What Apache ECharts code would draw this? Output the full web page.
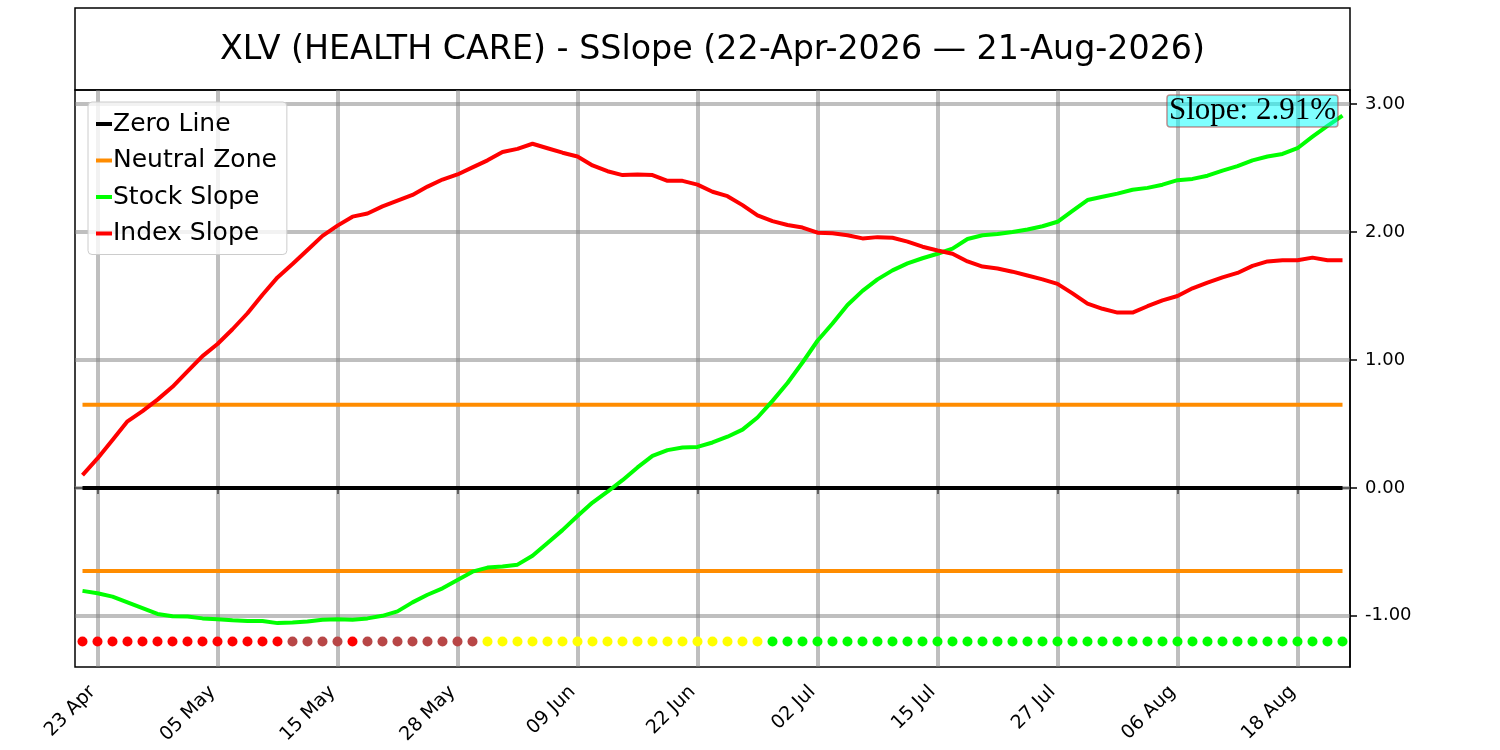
<!DOCTYPE html>
<html>
<head>
<meta charset="utf-8">
<script src="https://cdn.jsdelivr.net/npm/echarts@6/dist/echarts.min.js"></script>
<style>
  html, body { margin: 0; padding: 0; background: #fff; }
  #root { width: 1500px; height: 750px; }
</style>
</head>
<body>
<div id="root"></div>
<script>
// trading days 22 Apr 2026 - 21 Aug 2026
var dates = [
  '22 Apr','23 Apr','24 Apr','27 Apr','28 Apr','29 Apr','30 Apr',
  '01 May','04 May','05 May','06 May','07 May','08 May','11 May','12 May','13 May','14 May','15 May',
  '18 May','19 May','20 May','21 May','22 May','26 May','27 May','28 May','29 May',
  '01 Jun','02 Jun','03 Jun','04 Jun','05 Jun','08 Jun','09 Jun','10 Jun','11 Jun','12 Jun',
  '15 Jun','16 Jun','17 Jun','18 Jun','22 Jun','23 Jun','24 Jun','25 Jun','26 Jun','29 Jun','30 Jun',
  '01 Jul','02 Jul','06 Jul','07 Jul','08 Jul','09 Jul','10 Jul','13 Jul','14 Jul','15 Jul',
  '16 Jul','17 Jul','20 Jul','21 Jul','22 Jul','23 Jul','24 Jul','27 Jul','28 Jul','29 Jul','30 Jul','31 Jul',
  '03 Aug','04 Aug','05 Aug','06 Aug','07 Aug','10 Aug','11 Aug','12 Aug','13 Aug','14 Aug',
  '17 Aug','18 Aug','19 Aug','20 Aug','21 Aug'
];

var tickLabels = ['23 Apr','05 May','15 May','28 May','09 Jun','22 Jun','02 Jul','15 Jul','27 Jul','06 Aug','18 Aug'];
var yTicks = [-1, 0, 1, 2, 3];

var stockSlope = [
  -0.805, -0.823, -0.85, -0.895, -0.94, -0.985, -1.003, -1.005, -1.02, -1.027,
  -1.035, -1.04, -1.04, -1.057, -1.052, -1.045, -1.03, -1.027, -1.03, -1.02,
  -1.0, -0.965, -0.895, -0.835, -0.785, -0.72, -0.655, -0.623, -0.615, -0.60,
  -0.53, -0.43, -0.33, -0.22, -0.115, -0.03, 0.06, 0.16, 0.25, 0.295,
  0.315, 0.32, 0.355, 0.40, 0.455, 0.55, 0.68, 0.82, 0.98, 1.15,
  1.285, 1.43, 1.54, 1.63, 1.70, 1.755, 1.795, 1.83, 1.87, 1.945,
  1.975, 1.985, 2.00, 2.02, 2.045, 2.08, 2.165, 2.25, 2.275, 2.30,
  2.33, 2.345, 2.37, 2.405, 2.415, 2.44, 2.48, 2.515, 2.56, 2.59,
  2.61, 2.655, 2.745, 2.83, 2.91
];

var indexSlope = [
  0.10, 0.23, 0.375, 0.52, 0.60, 0.69, 0.79, 0.91, 1.03, 1.125,
  1.24, 1.365, 1.51, 1.645, 1.75, 1.86, 1.97, 2.05, 2.12, 2.145,
  2.20, 2.245, 2.29, 2.355, 2.41, 2.45, 2.505, 2.56, 2.625, 2.65,
  2.69, 2.655, 2.62, 2.59, 2.52, 2.475, 2.445, 2.45, 2.445, 2.40,
  2.40, 2.37, 2.315, 2.28, 2.21, 2.13, 2.085, 2.055, 2.035, 1.995,
  1.99, 1.975, 1.95, 1.96, 1.955, 1.925, 1.885, 1.855, 1.83, 1.77,
  1.73, 1.715, 1.69, 1.66, 1.63, 1.595, 1.52, 1.44, 1.40, 1.37,
  1.37, 1.42, 1.465, 1.50, 1.56, 1.605, 1.645, 1.68, 1.735, 1.77,
  1.78, 1.78, 1.80, 1.78, 1.78
];

// signal dots: R = red, B = brown, Y = yellow, G = green
var signals = ('RRRRRRRRRRRRRR' + 'BBBB' + 'R' + 'BBBBBBBB' +
  'YYYYYYYYYYYYYYYYYYY' +
  'GGGGGGGGGGGGGGGGGGGGGGGGGGGGGGGGGGGGGGG').split('');

var zeroLevel = 0;
var neutralLevel = 0.65;
var dotLevel = -1.2;
var lastSlope = 2.91;

var signalColors = { R: '#ff0000', B: '#b84646', Y: '#ffff00', G: '#00ff00' };
var FONT = 'DejaVu Sans';
var GRIDLINE = { color: 'rgba(128,128,128,0.5)', width: 4, type: 'solid' };

var first = dates[0], last = dates[dates.length - 1];
var isTick = function (i, v) { return tickLabels.indexOf(v) >= 0; };

var myChart = echarts.init(document.getElementById('root'));

myChart.setOption({
  animation: false,
  backgroundColor: '#fff',
  title: [{
    text: 'Slope: ' + lastSlope.toFixed(2) + '%',
    right: 162,
    top: 95,
    padding: [0, 2],
    backgroundColor: 'rgba(0,255,255,0.5)',
    borderColor: 'rgba(165,42,42,0.5)',
    borderWidth: 1.5,
    borderRadius: 3,
    textStyle: { fontFamily: 'Liberation Serif', fontSize: 31, fontWeight: 'normal', color: '#000', lineHeight: 32 }
  }],
  graphic: [
    {
      type: 'rect',
      shape: { x: 75, y: 8, width: 1275, height: 82 },
      style: { fill: 'none', stroke: '#000', lineWidth: 1.5 }
    },
    {
      type: 'text',
      x: 712.5, y: 50,
      style: {
        text: 'XLV (HEALTH CARE) - SSlope (22-Apr-2026 \u2014 21-Aug-2026)',
        fontFamily: FONT, fontSize: 33.3, fill: '#000',
        textAlign: 'center', textVerticalAlign: 'middle'
      }
    }
  ],
  legend: {
    data: ['Zero Line', 'Neutral Zone', 'Stock Slope', 'Index Slope'],
    orient: 'vertical',
    left: 88,
    top: 102,
    padding: [8, 10, 7, 8],
    itemWidth: 16,
    itemHeight: 4,
    itemGap: 8.5,
    icon: 'rect',
    backgroundColor: 'rgba(255,255,255,0.8)',
    borderColor: '#cccccc',
    borderWidth: 1,
    borderRadius: 4,
    textStyle: { fontFamily: FONT, fontSize: 25, color: '#000', lineHeight: 28, padding: [0, 0, 0, -4] }
  },
  grid: {
    left: 75, right: 150, top: 90, bottom: 83,
    show: true, borderColor: '#000', borderWidth: 1.5, backgroundColor: 'transparent'
  },
  xAxis: {
    type: 'category',
    data: dates,
    boundaryGap: true,
    axisLine: { show: true, lineStyle: { color: '#000', width: 1.5 } },
    axisTick: { show: true, alignWithLabel: true, interval: isTick, length: 6, lineStyle: { color: '#000', width: 1.5 } },
    axisLabel: {
      interval: isTick, rotate: 45, fontFamily: FONT, fontSize: 19, color: '#000',
      margin: 17, padding: [0, 7, 0, 0]
    },
    splitLine: { show: false }
  },
  yAxis: {
    type: 'value',
    position: 'right',
    min: -1.4,
    max: 3.11,
    axisLine: { show: true, lineStyle: { color: '#000', width: 1.5 } },
    axisTick: { show: true, customValues: yTicks, length: 7, lineStyle: { color: '#000', width: 1.5 } },
    axisLabel: {
      customValues: yTicks, fontFamily: FONT, fontSize: 18, color: '#000', margin: 15,
      formatter: function (v) { return v.toFixed(2); }
    },
    splitLine: { show: false }
  },
  series: [
    {
      name: 'grid',
      type: 'line',
      data: [],
      silent: true,
      markLine: {
        z: 1,
        silent: true,
        symbol: ['none', 'none'],
        label: { show: false },
        lineStyle: GRIDLINE,
        emphasis: { disabled: true },
        data: yTicks.map(function (v) { return { yAxis: v }; })
          .concat(tickLabels.map(function (d) { return { xAxis: d }; }))
      }
    },
    {
      name: 'Zero Line',
      type: 'line',
      symbol: 'none',
      data: [[first, zeroLevel], [last, zeroLevel]],
      itemStyle: { color: '#000' },
      lineStyle: { color: '#000', width: 4 }
    },
    {
      name: 'Neutral Zone',
      type: 'line',
      symbol: 'none',
      data: [[first, neutralLevel], [last, neutralLevel]],
      itemStyle: { color: '#ff8c00' },
      lineStyle: { color: '#ff8c00', width: 4 }
    },
    {
      name: 'Neutral Zone',
      type: 'line',
      symbol: 'none',
      data: [[first, -neutralLevel], [last, -neutralLevel]],
      itemStyle: { color: '#ff8c00' },
      lineStyle: { color: '#ff8c00', width: 4 }
    },
    {
      name: 'Stock Slope',
      type: 'line',
      symbol: 'none',
      data: stockSlope,
      itemStyle: { color: '#00ff00' },
      lineStyle: { color: '#00ff00', width: 4 }
    },
    {
      name: 'Index Slope',
      type: 'line',
      symbol: 'none',
      data: indexSlope,
      itemStyle: { color: '#ff0000' },
      lineStyle: { color: '#ff0000', width: 4 }
    },
    {
      name: 'signals',
      type: 'scatter',
      symbolSize: 10,
      data: signals.map(function (s, i) {
        return { value: [dates[i], dotLevel], itemStyle: { color: signalColors[s], opacity: 1 } };
      })
    }
  ]
});
</script>
</body>
</html>
